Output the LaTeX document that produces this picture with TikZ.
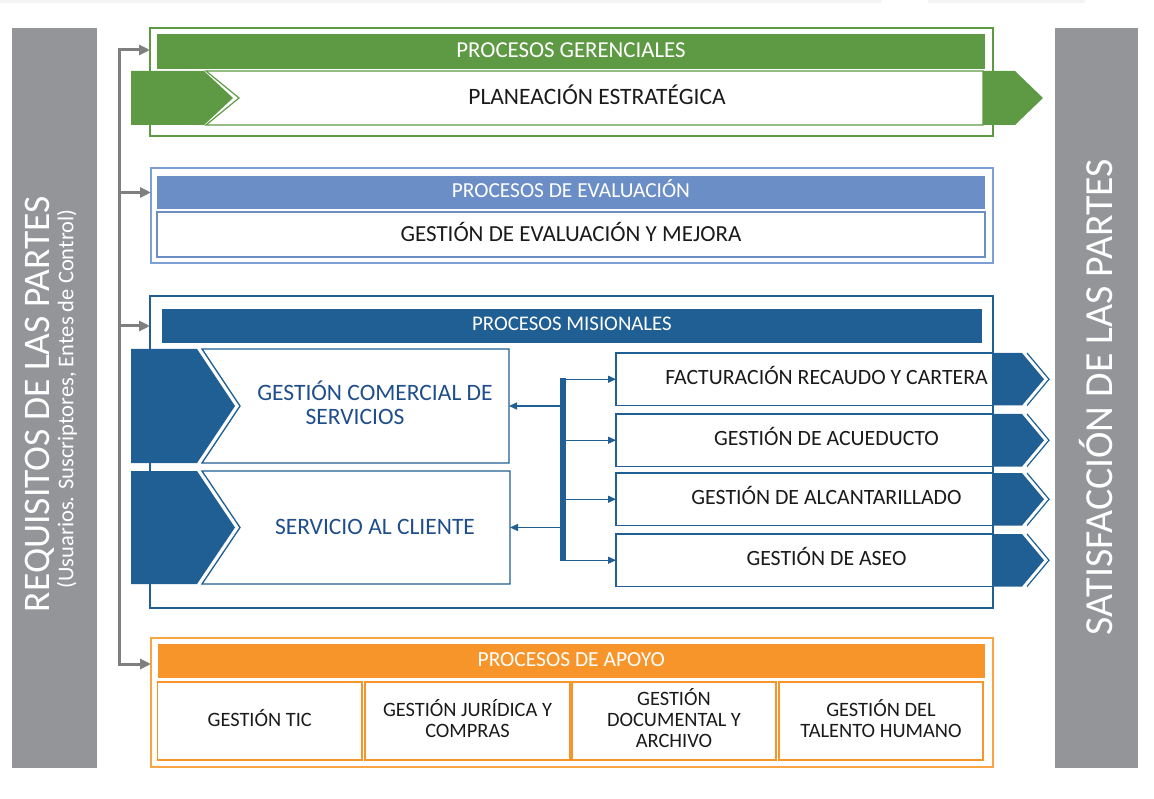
\documentclass[tikz,border=0pt]{standalone}
\usepackage{fontspec}
\setmainfont{Carlito}
\usetikzlibrary{arrows.meta,calc}
\definecolor{gverde}{HTML}{5E9A44}
\definecolor{eazul}{HTML}{6C8EC7}
\definecolor{eazulB}{HTML}{7E9ED6}
\definecolor{mazul}{HTML}{1F5F93}
\definecolor{naranja}{HTML}{F7952A}
\definecolor{naranjaB}{HTML}{F9A445}
\definecolor{gris}{HTML}{939598}
\definecolor{conect}{HTML}{7F7F7F}
\definecolor{texto}{HTML}{1A1A1A}
\definecolor{mtexto}{HTML}{1F4E8C}
\definecolor{banda}{HTML}{F3F4F6}
\begin{document}
\begin{tikzpicture}[x=1pt,y=-1pt,
  rect/.style={anchor=north west, inner sep=0pt, outer sep=0pt},
  capc/.style={text height=#1, text depth=0pt},
  hdrtxt/.style={text=white, font=\fontsize{#1}{24}\selectfont, capc=0.644*#1},
  hdrtxt/.default=22.8,
  bigtxt/.style={text=texto, font=\fontsize{23.5}{26}\selectfont, capc=15.1pt},
  midtxt/.style={text=texto, font=\fontsize{21.8}{24}\selectfont, capc=14pt},
  celltxt/.style={text=texto, font=\fontsize{20.4}{21}\selectfont, align=center},
  mistxt/.style={text=mtexto, font=\fontsize{23.5}{24}\selectfont, align=center},
  cellbox/.style={rect, draw=naranja, line width=1.8pt, minimum height=78pt},
  garr/.style={draw=conect, line width=3pt, -{Triangle[length=11pt,width=10pt]}},
  barr/.style={draw=mazul, line width=1.4pt, -{Triangle[length=8pt,width=7pt]}},
]
\useasboundingbox (0,0) rectangle (1154,799);
\fill[banda] (0,0) rectangle (882,3);
\fill[banda] (928,0) rectangle (1085,3);

% side bars
\node[rect, fill=gris, minimum width=85pt, minimum height=740pt] (req) at (12,28) {};
\node[rotate=90, text=white, font=\fontsize{37.5}{40}\selectfont] (reqt) at (40,404) {REQUISITOS DE LAS PARTES};
\node[rotate=90, text=white, font=\fontsize{22.5}{24}\selectfont] (reqs) at (67,399) {(Usuarios. Suscriptores, Entes de Control)};
\node[rect, fill=gris, minimum width=83pt, minimum height=740pt] (sat) at (1055,28) {};
\node[rotate=90, text=white, font=\fontsize{39.8}{42}\selectfont] (satt) at (1096,397) {SATISFACCIÓN DE LAS PARTES};

% gerenciales
\node[rect, draw=gverde, line width=1.6pt, minimum width=843pt, minimum height=108pt] (gerbox) at (150,28) {};
\node[rect, fill=gverde, minimum width=828pt, minimum height=35pt] (gerh) at (157,34) {};
\node[hdrtxt] (gerht) at ($(gerh.center)+(0,-1.5)$) {PROCESOS GERENCIALES};
\node[rect, minimum width=777pt, minimum height=54pt] (planbody) at (206,71) {};
\draw[draw=gverde, line width=1.2pt, fill=white] (planbody.north west) -- (planbody.north east) -- (planbody.south east) -- (planbody.south west) -- ($(planbody.west)+(33,0)$) -- cycle;
\node[bigtxt] (plan) at (597,96.5) {PLANEACIÓN ESTRATÉGICA};
\fill[gverde] (131,71) -- (204,71) -- (233,98) -- (204,125) -- (131,125) -- cycle;
\fill[gverde] (planbody.north east) -- ++(32,0) -- ($(planbody.east)+(60,0)$) -- ($(planbody.south east)+(32,0)$) -- (planbody.south east) -- cycle;

% evaluacion
\node[rect, draw=eazulB, line width=1.6pt, minimum width=842pt, minimum height=95pt] (evbox) at (151,168) {};
\node[rect, fill=eazul, minimum width=828pt, minimum height=33pt] (evh) at (157,176) {};
\node[hdrtxt=21.4] (evht) at ($(evh.center)+(0,-2)$) {PROCESOS DE EVALUACIÓN};
\node[rect, draw=eazul, line width=1.4pt, minimum width=828pt, minimum height=45pt] (evb) at (157,212) {};
\node[bigtxt, font=\fontsize{23}{26}\selectfont, capc=14.8pt] (evbt) at (evb.center) {GESTIÓN DE EVALUACIÓN Y MEJORA};

% misionales
\node[rect, draw=mazul, line width=1.5pt, minimum width=843pt, minimum height=312pt] (misbox) at (150,296) {};
\node[rect, fill=mazul, minimum width=820pt, minimum height=34pt] (mish) at (162,309) {};
\node[hdrtxt=20.8] (misht) at ($(mish.center)+(0,-2.5)$) {PROCESOS MISIONALES};

\node[rect, minimum width=307pt, minimum height=114pt] (gcbody) at (202,349) {};
\draw[draw=mazul, line width=1.3pt, fill=white] (gcbody.north west) -- (gcbody.north east) -- (gcbody.south east) -- (gcbody.south west) -- ($(gcbody.west)+(38,0)$) -- cycle;
\fill[mazul] (131,349) -- (197,349) -- (235,406) -- (197,463) -- (131,463) -- cycle;
\node[mistxt] (gct) at (375,403) {GESTIÓN COMERCIAL DE\\[-0.5pt]SERVICIOS\hspace*{40pt}};

\node[rect, minimum width=308pt, minimum height=113pt] (scbody) at (202,471) {};
\draw[draw=mazul, line width=1.3pt, fill=white] (scbody.north west) -- (scbody.north east) -- (scbody.south east) -- (scbody.south west) -- ($(scbody.west)+(38,0)$) -- cycle;
\fill[mazul] (131,471) -- (197,471) -- (235,527.5) -- (197,584) -- (131,584) -- cycle;
\node[mistxt, capc=15.1pt] (sct) at (375,527) {SERVICIO AL CLIENTE};

% right boxes
\foreach \n/\y/\t in {f1/353/FACTURACIÓN RECAUDO Y CARTERA, f2/414/GESTIÓN DE ACUEDUCTO, f3/473/GESTIÓN DE ALCANTARILLADO, f4/534/GESTIÓN DE ASEO}{
  \node[rect, draw=mazul, line width=1.3pt, fill=white, minimum width=377pt, minimum height=52.5pt] (\n) at (616,\y) {};
  \fill[mazul] (\n.north east) -- ++(29,0) -- ($(\n.east)+(51,0)$) -- ($(\n.south east)+(29,0)$) -- (\n.south east) -- cycle;
  \draw[mazul, line width=1.2pt] ($(\n.north east)+(34,0)$) -- ($(\n.east)+(56,0)$) -- ($(\n.south east)+(34,0)$);
  \node[midtxt] (\n t) at ($(\n.center)+(22,-1.5)$) {\t};
}

\node[rect, fill=mazul, minimum width=6pt, minimum height=183pt] (bar) at (559.5,378) {};
\foreach \n in {f1,f2,f3,f4}{
  \draw[barr] (bar.east |- \n.west) -- (\n.west);
}
\draw[barr] (bar.west |- gcbody.east) -- (gcbody.east);
\draw[barr] (bar.west |- scbody.east) -- (scbody.east);

% apoyo
\node[rect, draw=naranjaB, line width=1.8pt, minimum width=842pt, minimum height=129pt] (apbox) at (151,638) {};
\node[rect, fill=naranja, minimum width=827.5pt, minimum height=34pt] (aph) at (157.5,644) {};
\node[hdrtxt=21.5] (apht) at ($(aph.center)+(0,-1)$) {PROCESOS DE APOYO};
\node[cellbox, minimum width=204.5pt] (a1) at (157.5,682) {};
\node[cellbox, minimum width=205pt] (a2) at (365,682) {};
\node[cellbox, minimum width=204pt] (a3) at (572,682) {};
\node[cellbox, minimum width=204pt] (a4) at (779,682) {};
\node[celltxt] (a1t) at ($(a1.center)+(0,-2.5)$) {GESTIÓN TIC};
\node[celltxt] (a2t) at ($(a2.center)+(0,-2.5)$) {GESTIÓN JURÍDICA Y\\COMPRAS};
\node[celltxt] (a3t) at ($(a3.center)+(0,-2.5)$) {GESTIÓN\\DOCUMENTAL Y\\ARCHIVO};
\node[celltxt] (a4t) at ($(a4.center)+(0,-2.5)$) {GESTIÓN DEL\\TALENTO HUMANO};

% gray connectors
\coordinate (gtop) at (119,50);
\coordinate (gbot) at (119,664);
\draw[garr] (gbot) -- (gtop) -- (gtop -| gerbox.west);
\draw[garr] (gtop) -- (gbot) -- (gbot -| apbox.west);
\draw[garr] (gtop |- evh.west) -- (evh.west -| evbox.west);
\draw[garr] (gtop |- mish.west) -- (mish.west -| misbox.west);
\end{tikzpicture}
\end{document}
